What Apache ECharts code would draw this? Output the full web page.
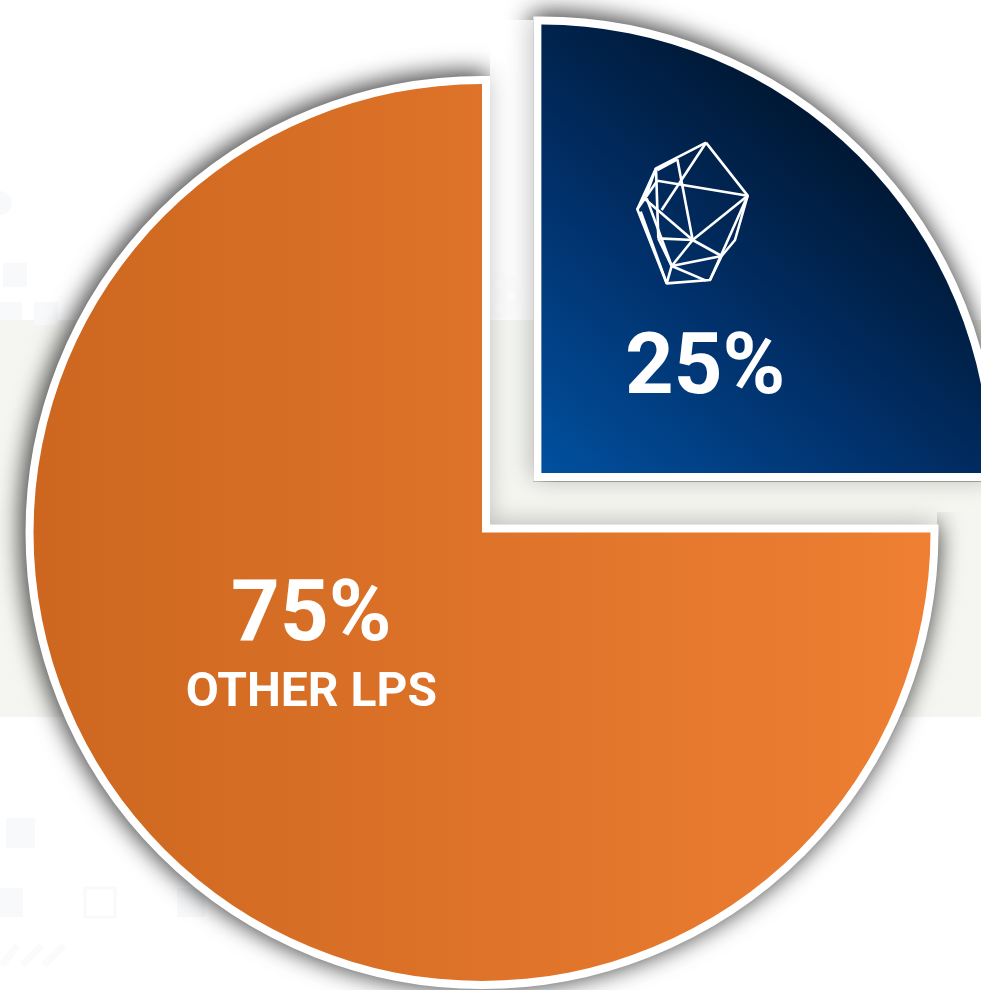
<!DOCTYPE html>
<html><head><meta charset="utf-8">
<style>html,body{margin:0;padding:0;background:#fff}#c{width:981px;height:990px}</style>
<script src="https://cdn.jsdelivr.net/npm/echarts@6/dist/echarts.min.js"></script>
</head><body><div id="c"></div>
<script>
const categories = ['25%', 'OTHER LPS'];
const values = [25, 75];
const shares = ['25%', '75%'];

const iconEdges = [
 [[258,38],[383,197],[345,330],[305,378],[270,450],[140,460],[52,238],[108,115],[258,38]],
 [[112,152],[383,197]],[[258,38],[125,240]],[[172,88],[218,330]],[[108,115],[115,325]],
 [[72,205],[218,330]],[[115,325],[218,330]],[[383,197],[218,330]],[[218,330],[155,408]],
 [[218,330],[305,378]],[[155,408],[305,378]],[[155,408],[258,452]],[[155,408],[140,460]],
 [[383,197],[270,450]],[[52,238],[112,152]],[[75,205],[108,115]],[[172,88],[112,120]],
 [[115,325],[155,408]],[[62,245],[140,460]],[[80,205],[155,408]]
];
const ix = p => [620 + p[0]/3, 130 + p[1]/3];
const paleBlocks = [[3,263,24,24],[34,302,24,23],[0,302,22,18],[6,818,29,30],[0,888,23,29],[177,888,28,29]];
const hatches = [[[2,965],[18,945]],[[22,965],[42,945]],[[44,965],[64,945]]];
const gearHoles = [[499,283],[512,296],[499,307]];
// soft veil over the gap between the two sectors, where the reference's shadow is faint
const gapVeil = [[490,20,43,300,'255,255,255'],[490,320,43,205,'245,246,241'],[533,482,404,43,'245,246,241'],[937,482,44,30,'245,246,241']];

const bg = [
 {type:'rect', z:-10, shape:{x:0,y:320,width:981,height:397}, style:{fill:'#f5f6f1'}},
 {type:'circle', z:-9, shape:{cx:0,cy:203,r:12}, style:{fill:'#f8f9fb'}},
 {type:'rect', z:-9, shape:{x:85,y:888,width:30,height:29}, style:{fill:'none',stroke:'#f8f9fb',lineWidth:3}},
 ...paleBlocks.map(b => ({type:'rect', z:-9, shape:{x:b[0],y:b[1],width:b[2],height:b[3]}, style:{fill:'#f8f9fb'}})),
 ...hatches.map(h => ({type:'line', z:-9, shape:{x1:h[0][0],y1:h[0][1],x2:h[1][0],y2:h[1][1]}, style:{stroke:'#fbfbfb',lineWidth:7}})),
 {type:'circle', z:-9, shape:{cx:499,cy:295,r:23}, style:{fill:'#f7f8fa'}},
 ...gearHoles.map(h => ({type:'circle', z:-8, shape:{cx:h[0],cy:h[1],r:4.5}, style:{fill:'#fff'}})),
 ...gapVeil.map(v => ({type:'rect', z:2.5, shape:{x:v[0],y:v[1],width:v[2],height:v[3]}, style:{fill:'rgba('+v[4]+',0.72)'}}))
];
const icon = iconEdges.map(e => ({type:'polyline', z:100, shape:{points:e.map(ix)},
  style:{fill:'none',stroke:'#fff',lineWidth:2.6,lineJoin:'round'}}));

const grad = (x,y,x2,y2,stops)=>({type:'linear',x,y,x2,y2,colorStops:stops.map(c=>({offset:c[0],color:c[1]}))});
const blueFill = grad(0,1,0.72,0.1,[[0,'#01509f'],[0.45,'#01306a'],[0.9,'#001630'],[1,'#001630']]);
const orangeFill = grad(0,0,1,0,[[0,'#cd671f'],[1,'#ee7f33']]);
const center = [482,532.5];
const base = {type:'pie', center, radius:[0,448.5], startAngle:90, clockwise:true, animation:false,
  selectedMode:'single', selectedOffset:84, silent:true, labelLine:{show:false}};
const bigText = {fontSize:85,fontWeight:'bold',color:'#fff',fontFamily:'Roboto',align:'center'};
const blueLabel = {formatter:'{a|'+shares[0]+'}',offset:[3,59],rich:{a:{...bigText,lineHeight:92}}};

echarts.init(document.getElementById('c')).setOption({
  backgroundColor:'#fff', animation:false,
  graphic:{elements:[...bg,...icon]},
  series:[
   {...base, z:2, label:{show:false},
    itemStyle:{color:'#fff',borderColor:'#fff',borderWidth:16,borderJoin:'miter',shadowBlur:26,shadowColor:'rgba(0,0,0,0.75)',shadowOffsetX:-2,shadowOffsetY:-2},
    data:[{name:categories[0],value:values[0],selected:true},{name:categories[1],value:values[1]}]},
   {...base, z:3,
    label:{show:true,position:'inside',color:'#fff',fontFamily:'Roboto',fontWeight:'bold'},
    data:[
     {name:categories[0],value:values[0],selected:true,itemStyle:{color:blueFill},
      label:blueLabel, select:{label:blueLabel}},
     {name:categories[1],value:values[1],itemStyle:{color:orangeFill},
      label:{formatter:'{a|'+shares[1]+'}\n{b|'+categories[1]+'}',offset:[-10,-43],
        rich:{a:{...bigText,lineHeight:88},
              b:{fontSize:48,fontWeight:'bold',color:'#fff',fontFamily:'Roboto',lineHeight:62,align:'center'}}}}
    ]}
  ]
});
</script></body></html>
